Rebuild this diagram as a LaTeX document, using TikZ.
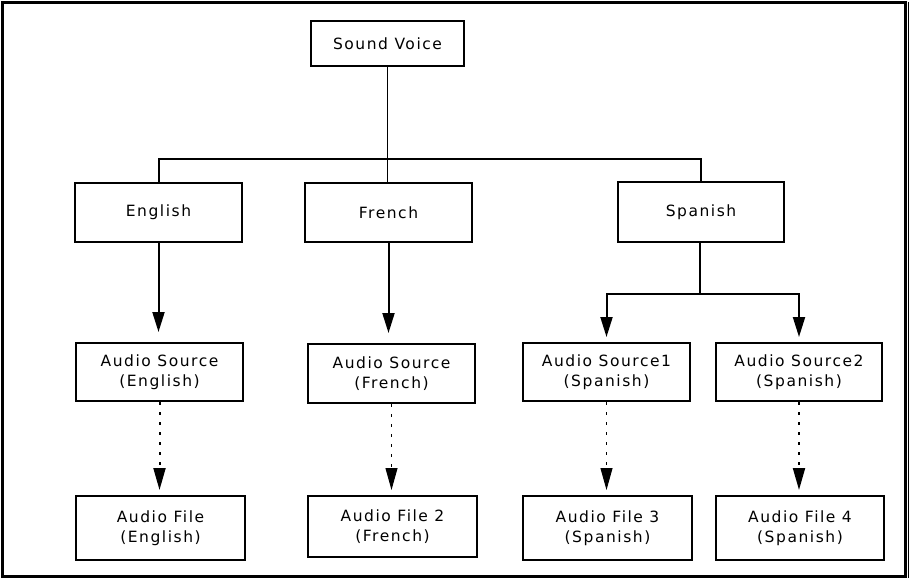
\documentclass[tikz,border=0pt]{standalone}
\usepackage{fontspec}
\setmainfont[LetterSpace=10]{DejaVu Sans}
\usetikzlibrary{arrows.meta}

\tikzset{
  box/.style={draw, line width=2pt, minimum width=167pt, minimum height=58pt,
    align=center, inner sep=0pt, font=\fontsize{15.5}{20}\selectfont},
  bus/.style={line width=2pt},
  feed/.style={line width=2pt, -{Triangle[length=20pt, width=12pt]}, shorten >=10pt},
  link/.style={line width=2pt, dash pattern=on 3pt off 7pt,
    -{Triangle[length=22pt, width=12pt]}, shorten >=5pt}
}

\begin{document}
\begin{tikzpicture}[x=1pt, y=-1pt]
  % Frame
  \useasboundingbox (0,0) rectangle (910,580);
  \draw[line width=3pt] (2.5,2.5) rectangle (905,576.5);
  \draw[line width=1pt] (908.5,2) -- (908.5,578);

  % Top level
  \node[box, minimum width=153pt, minimum height=45pt] (voice) at (387.5,43.5) {Sound Voice};

  % Languages
  \node[box, minimum height=59pt] (english) at (158.5,212.5) {English};
  \node[box, minimum height=59pt] (french) at (388.5,212.5) {French};
  \node[box, minimum width=166pt, minimum height=60pt] (spanish) at (701,212) {Spanish};

  % Audio sources
  \node[box] (srcEn) at (159.5,372) {Audio Source\\(English)};
  \node[box, minimum height=59pt] (srcFr) at (391.5,373.5) {Audio Source\\(French)};
  \node[box] (srcEs1) at (606.5,372) {Audio Source1\\(Spanish)};
  \node[box, minimum width=166pt] (srcEs2) at (799,372) {Audio Source2\\(Spanish)};

  % Audio files
  \node[box, minimum width=169pt, minimum height=64pt] (fileEn) at (160.5,528) {Audio File\\(English)};
  \node[box, minimum width=169pt, minimum height=61pt] (fileFr) at (392.5,526.5) {Audio File 2\\(French)};
  \node[box, minimum width=169pt, minimum height=64pt] (fileEs3) at (607.5,528) {Audio File 3\\(Spanish)};
  \node[box, minimum width=168pt, minimum height=64pt] (fileEs4) at (800,528) {Audio File 4\\(Spanish)};

  % Tree lines
  \coordinate (busTop) at (387,159);
  \coordinate (busEs) at (700,294);
  \draw[line width=1pt] (voice.south -| busTop) -- (french.north -| busTop);
  \draw[bus] (english.north) |- (busTop) -| (spanish.north);
  \draw[bus] (spanish.south -| busEs) -- (busEs);

  % Arrows
  \draw[feed] (english.south) -- (srcEn.north -| english.south);
  \draw[feed] (french.south) -- (srcFr.north -| french.south);
  \draw[feed, shorten >=5pt] (busEs) -| (srcEs1.north);
  \draw[feed, shorten >=5pt] (busEs) -| (srcEs2.north);

  \draw[link] (srcEn.south) -- (fileEn.north -| srcEn.south);
  \draw[link, line width=1pt] (srcFr.south) -- (fileFr.north -| srcFr.south);
  \draw[link, line width=1pt] (srcEs1.south) -- (fileEs3.north -| srcEs1.south);
  \draw[link] (srcEs2.south) -- (fileEs4.north -| srcEs2.south);
\end{tikzpicture}
\end{document}
